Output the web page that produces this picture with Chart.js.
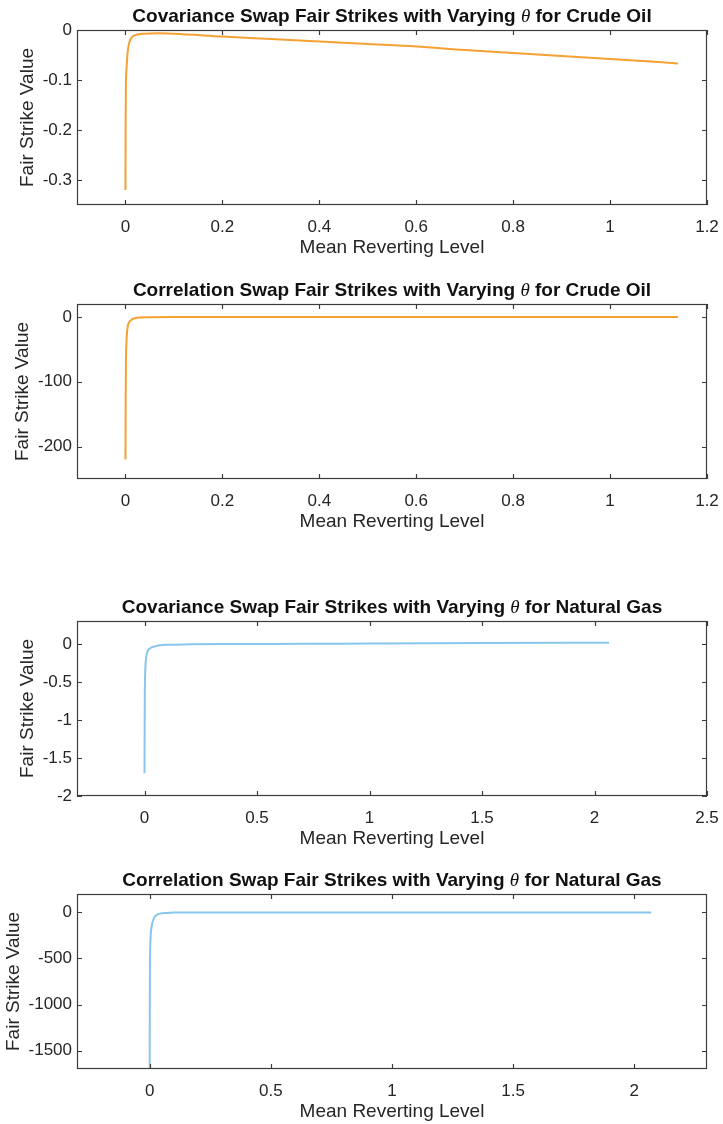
<!DOCTYPE html>
<html>
<head>
<meta charset="utf-8">
<script src="https://cdn.jsdelivr.net/npm/chart.js@4.4.1/dist/chart.umd.min.js"></script>
<style>
  body { margin: 0; background: #fff; width: 723px; height: 1124px; position: relative; overflow: hidden; }
  .panel { position: absolute; left: 0; width: 723px; height: 260px; }
</style>
</head>
<body>
<div class="panel" style="top:0px"><canvas id="crudeCov" width="723" height="260"></canvas></div>
<div class="panel" style="top:274px"><canvas id="crudeCorr" width="723" height="260"></canvas></div>
<div class="panel" style="top:591px"><canvas id="gasCov" width="723" height="260"></canvas></div>
<div class="panel" style="top:864px"><canvas id="gasCorr" width="723" height="260"></canvas></div>
<script>
// mean reverting level (x) and fair strike (y)
const crudeCovX = [0, 0.0003, 0.0008, 0.0015, 0.003, 0.005, 0.008, 0.012, 0.018, 0.025, 0.035, 0.05, 0.07, 0.1, 0.2, 0.3, 0.4, 0.5, 0.6, 0.7, 0.8, 0.9, 1.0, 1.1, 1.14];
const crudeCovY = [-0.32, -0.2, -0.12, -0.09, -0.065, -0.04, -0.025, -0.016, -0.011, -0.009, -0.0075, -0.0068, -0.0066, -0.0075, -0.013, -0.018, -0.023, -0.028, -0.033, -0.04, -0.046, -0.052, -0.058, -0.064, -0.067];

const crudeCorrX = [0, 0.0005, 0.001, 0.002, 0.004, 0.007, 0.01, 0.015, 0.02, 0.03, 0.05, 0.1, 0.3, 0.6, 0.9, 1.14];
const crudeCorrY = [-220, -120, -70, -40, -18, -9, -6, -3, -1.8, -0.9, -0.4, -0.1, 0, 0, 0, 0];

const gasCovX = [0, 0.001, 0.002, 0.004, 0.008, 0.012, 0.02, 0.03, 0.045, 0.07, 0.1, 0.2, 0.4, 0.7, 1.0, 1.5, 2.065];
const gasCovY = [-1.7, -0.8, -0.5, -0.3, -0.17, -0.11, -0.07, -0.05, -0.035, -0.02, -0.013, -0.007, -0.003, 0, 0.004, 0.01, 0.015];

const gasCorrX = [0, 0.0005, 0.001, 0.002, 0.004, 0.007, 0.01, 0.015, 0.02, 0.03, 0.045, 0.07, 0.1, 0.2, 0.5, 1.0, 1.5, 2.07];
const gasCorrY = [-1700, -900, -600, -400, -250, -170, -125, -80, -50, -25, -12, -5, -2, -0.5, 0, 0, 0, 0];

// tick labels
const crudeXTicks = [0, 0.2, 0.4, 0.6, 0.8, 1, 1.2];
const gasCovXTicks = [0, 0.5, 1, 1.5, 2, 2.5];
const gasCorrXTicks = [0, 0.5, 1, 1.5, 2];
const crudeCovYTicks = [-0.3, -0.2, -0.1, 0];
const crudeCorrYTicks = [-200, -100, 0];
const gasCovYTicks = [-2, -1.5, -1, -0.5, 0];
const gasCorrYTicks = [-1500, -1000, -500, 0];

const FONT = '"Liberation Sans", Arial, Helvetica, sans-serif';
const INK = '#262626';
const ORANGE = '#f5a033';
const BLUE = '#88c6ee';

// MATLAB-like box with inward ticks on all four sides, plus the title with an italic theta
const boxTicks = {
  id: 'boxTicks',
  afterDraw(chart, args, opts) {
    const { ctx, chartArea: a, scales: { x, y } } = chart;
    ctx.save();
    ctx.strokeStyle = '#3c3c3c';
    ctx.lineWidth = 1.2;
    ctx.strokeRect(a.left + 0.5, a.top + 0.5, a.width - 1, a.height - 1);
    ctx.beginPath();
    x.ticks.forEach(t => {
      const px = Math.round(x.getPixelForValue(t.value)) + 0.5;
      ctx.moveTo(px, a.bottom); ctx.lineTo(px, a.bottom - 5);
      ctx.moveTo(px, a.top); ctx.lineTo(px, a.top + 5);
    });
    y.ticks.forEach(t => {
      const py = Math.round(y.getPixelForValue(t.value)) + 0.5;
      ctx.moveTo(a.left, py); ctx.lineTo(a.left + 5, py);
      ctx.moveTo(a.right, py); ctx.lineTo(a.right - 5, py);
    });
    ctx.stroke();

    const parts = opts.title;
    const fonts = ['bold 19px ' + FONT, 'italic 19px "Liberation Serif", serif', 'bold 19px ' + FONT];
    const widths = parts.map((p, i) => { ctx.font = fonts[i]; return ctx.measureText(p).width; });
    let cx = (a.left + a.right) / 2 - widths.reduce((s, w) => s + w, 0) / 2;
    ctx.fillStyle = '#111';
    ctx.textBaseline = 'middle';
    ctx.textAlign = 'left';
    parts.forEach((p, i) => {
      ctx.font = fonts[i];
      ctx.fillText(p, cx, a.top - 13);
      cx += widths[i];
    });
    ctx.restore();
  }
};

function makeChart(id, xs, ys, color, xRange, xTicks, yRange, yTicks, title, yTitlePad) {
  return new Chart(document.getElementById(id), {
    type: 'scatter',
    data: {
      datasets: [{
        data: xs.map((v, i) => ({ x: v, y: ys[i] })),
        showLine: true,
        borderColor: color,
        borderWidth: 2,
        pointRadius: 0,
        cubicInterpolationMode: 'monotone',
        fill: false
      }]
    },
    options: {
      responsive: false,
      animation: false,
      events: [],
      layout: { padding: { top: 30, right: 16, left: 0, bottom: 0 } },
      plugins: {
        legend: { display: false },
        tooltip: { enabled: false },
        boxTicks: { title: title }
      },
      scales: {
        x: {
          type: 'linear',
          min: xRange[0],
          max: xRange[1],
          afterBuildTicks: s => { s.ticks = xTicks.map(v => ({ value: v })); },
          afterFit: s => { s.height = 55; s.paddingLeft = 0; s.paddingRight = 0; },
          grid: { display: false, drawTicks: false },
          border: { display: false },
          ticks: { padding: 12, color: INK, autoSkip: false, maxRotation: 0, font: { family: FONT, size: 17 }, callback: v => String(v) },
          title: { display: true, text: 'Mean Reverting Level', color: INK, font: { family: FONT, size: 19 }, padding: { top: 0, bottom: 1 } }
        },
        y: {
          type: 'linear',
          min: yRange[0],
          max: yRange[1],
          afterBuildTicks: s => { s.ticks = yTicks.map(v => ({ value: v })); },
          afterFit: s => { s.width = 77; },
          grid: { display: false, drawTicks: false },
          border: { display: false },
          ticks: { padding: 5, color: INK, autoSkip: false, font: { family: FONT, size: 17 }, callback: v => String(v) },
          title: { display: true, text: 'Fair Strike Value', color: INK, font: { family: FONT, size: 19 }, padding: { top: yTitlePad, bottom: 0 } }
        }
      }
    },
    plugins: [boxTicks]
  });
}

makeChart('crudeCov', crudeCovX, crudeCovY, ORANGE, [-0.1, 1.2], crudeXTicks, [-0.35, 0], crudeCovYTicks,
  ['Covariance Swap Fair Strikes with Varying ', 'θ', ' for Crude Oil'], 16.6);
makeChart('crudeCorr', crudeCorrX, crudeCorrY, ORANGE, [-0.1, 1.2], crudeXTicks, [-250, 20], crudeCorrYTicks,
  ['Correlation Swap Fair Strikes with Varying ', 'θ', ' for Crude Oil'], 11.1);
makeChart('gasCov', gasCovX, gasCovY, BLUE, [-0.3, 2.5], gasCovXTicks, [-2, 0.3], gasCovYTicks,
  ['Covariance Swap Fair Strikes with Varying ', 'θ', ' for Natural Gas'], 16.1);
makeChart('gasCorr', gasCorrX, gasCorrY, BLUE, [-0.3, 2.3], gasCorrXTicks, [-1700, 200], gasCorrYTicks,
  ['Correlation Swap Fair Strikes with Varying ', 'θ', ' for Natural Gas'], 2.3);
</script>
</body>
</html>
